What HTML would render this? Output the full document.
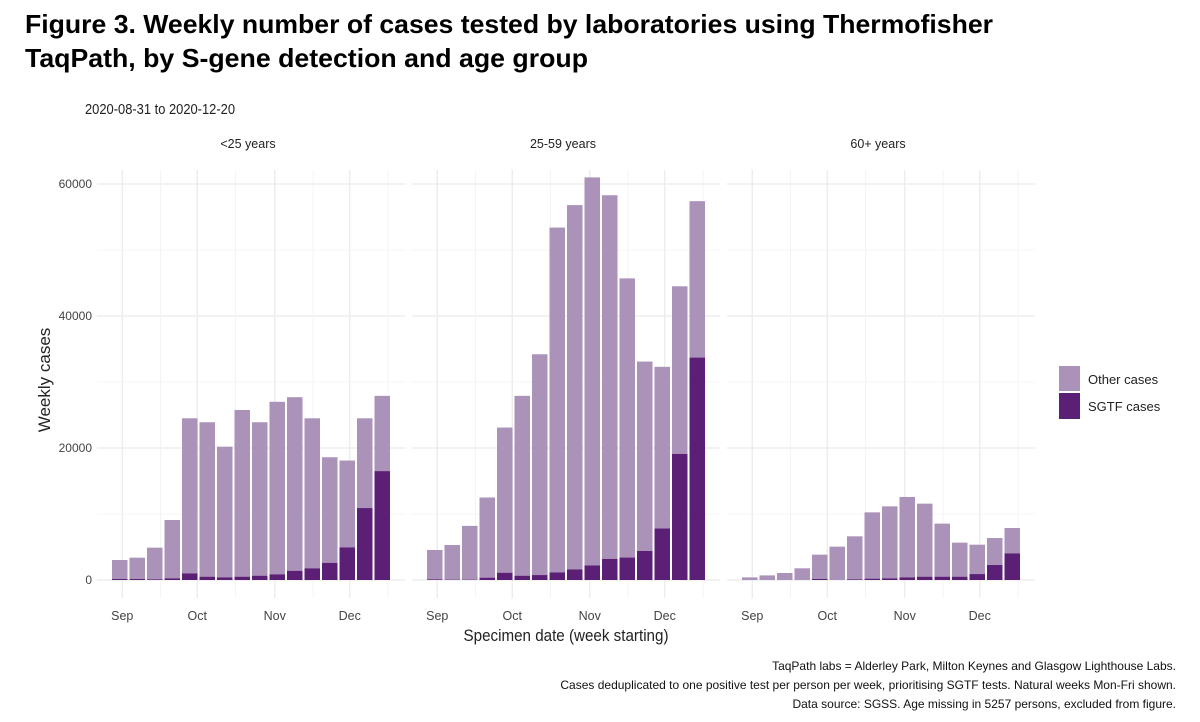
<!DOCTYPE html>
<html><head><meta charset="utf-8"><style>
body{margin:0;background:#fff}
svg{display:block;font-family:"Liberation Sans",Arial,sans-serif}
</style></head><body>
<svg id="chart" width="1200" height="722" viewBox="0 0 1200 722">
<text x="25" y="33" font-size="26" font-weight="bold" textLength="968" lengthAdjust="spacingAndGlyphs">Figure 3. Weekly number of cases tested by laboratories using Thermofisher</text>
<text x="25" y="67" font-size="26" font-weight="bold" textLength="563" lengthAdjust="spacingAndGlyphs">TaqPath, by S-gene detection and age group</text>
<text x="85" y="114" font-size="14.5" fill="#222" textLength="150" lengthAdjust="spacingAndGlyphs">2020-08-31  to  2020-12-20</text>
<g id="plot"></g>
<text transform="translate(50,380) rotate(-90)" text-anchor="middle" font-size="17" fill="#222">Weekly cases</text>
<text x="566" y="641" text-anchor="middle" font-size="17" fill="#222" textLength="205" lengthAdjust="spacingAndGlyphs">Specimen date (week starting)</text>
<g>
<rect x="1059" y="366" width="21" height="25" fill="#ab92b8"/>
<rect x="1059" y="393" width="21" height="26" fill="#5b2075"/>
<text x="1088" y="384" font-size="13" fill="#222">Other cases</text>
<text x="1088" y="411" font-size="13" fill="#222">SGTF cases</text>
</g>
<g font-size="12" fill="#111" text-anchor="end">
<text x="1176" y="670">TaqPath labs = Alderley Park, Milton Keynes and Glasgow Lighthouse Labs.</text>
<text x="1176" y="689">Cases deduplicated to one positive test per person per week, prioritising SGTF tests. Natural weeks Mon-Fri shown.</text>
<text x="1176" y="708">Data source: SGSS. Age missing in 5257 persons, excluded from figure.</text>
</g>
</svg>
<script>
const panels = ["<25 years", "25-59 years", "60+ years"];
const totalsU25 = [3030,3380,4900,9090,24500,23900,20200,25760,23900,27000,27700,24500,18600,18100,24500,27900];
const sgtfU25 = [150,150,100,250,1000,500,400,500,650,860,1400,1770,2600,4950,10900,16500];
const totals2559 = [4550,5300,8200,12500,23100,27900,34200,53400,56800,61000,58300,45700,33100,32300,44500,57400];
const sgtf2559 = [100,50,50,350,1100,650,750,1150,1600,2200,3200,3400,4400,7800,19100,33700];
const totals60 = [400,700,1060,1770,3840,5050,6620,10250,11160,12580,11570,8540,5660,5350,6360,7880];
const sgtf60 = [0,0,0,0,150,0,100,200,250,400,500,500,500,900,2270,4040];
const yTicks = [0,20000,40000,60000];
const monthLabels = ["Sep","Oct","Nov","Dec"];
const monthDays = [1,31,62,92];

const NS="http://www.w3.org/2000/svg";
const g=document.getElementById('plot');
const y0=580, pxPer=132/20000;
function yS(v){return y0-v*pxPer;}
const panelX=[97,412,727], panelW=308, band=17.5, pad=14;
function xS(p,i){return panelX[p]+pad+band*i;}
function xDay(p,d){return panelX[p]+pad+band/2+d*band/7;}
function mk(tag,attrs){const e=document.createElementNS(NS,tag);for(const k in attrs)e.setAttribute(k,attrs[k]);g.appendChild(e);return e;}
const totals=[totalsU25,totals2559,totals60], sg=[sgtfU25,sgtf2559,sgtf60];
// y tick labels
yTicks.forEach(v=>{
  const t=mk('text',{x:92,y:yS(v)+4,'text-anchor':'end','font-size':12,fill:'#444'});
  t.textContent=v;
  
  
});
for(let p=0;p<3;p++){
  // grids
  for(let v=0;v<=60000;v+=10000){
    const l=mk('line',{x1:panelX[p],x2:panelX[p]+panelW,y1:yS(v),y2:yS(v),stroke:v%20000===0?'#ebebeb':'#f4f4f4','stroke-width':v%20000===0?1.3:1});
    
    
  }
  monthDays.forEach((d,k)=>{
    const x=xDay(p,d);
    const l=mk('line',{x1:x,x2:x,y1:170,y2:598,stroke:'#ebebeb','stroke-width':1.3});
    
    
    const mx=x+38.3;
    const l2=mk('line',{x1:mx,x2:mx,y1:170,y2:598,stroke:'#f4f4f4','stroke-width':1});
    
    
    const t=mk('text',{x:x,y:620,'text-anchor':'middle','font-size':12.5,fill:'#444'});
    t.textContent=monthLabels[k];
    
    
  });
  const ft=mk('text',{x:panelX[p]+panelW/2-3,y:148,'text-anchor':'middle','font-size':12.5,fill:'#222'});
  ft.textContent=panels[p];
  
  
  totals[p].forEach((tot,i)=>{
    const s=sg[p][i];
    const x=xS(p,i)+1, w=band-2;
    const r1=mk('rect',{x:x,y:yS(tot),width:w,height:yS(s)-yS(tot),fill:'#ab92b8'});
    
    
    const r2=mk('rect',{x:x,y:yS(s),width:w,height:y0-yS(s),fill:'#5b2075'});
    
    
  });
}
</script>
</body></html>
